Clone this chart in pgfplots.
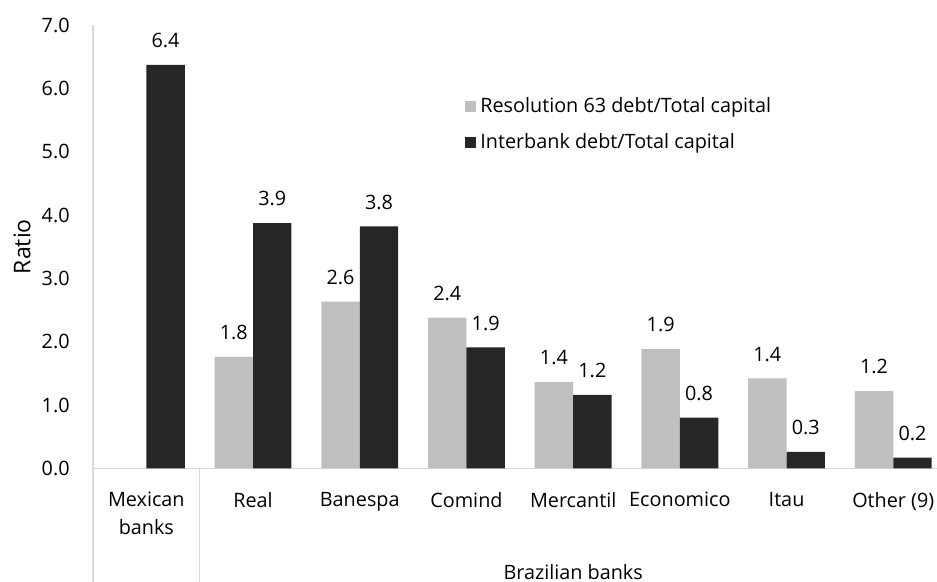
\documentclass[border=0pt]{standalone}
\usepackage{fontspec}
\setmainfont{Open Sans}
\usepackage{pgfplots}
\pgfplotsset{compat=1.18}
\definecolor{barlight}{RGB}{191,191,191}
\definecolor{bardark}{RGB}{38,38,38}
\definecolor{axisgray}{RGB}{217,217,217}
\begin{document}
\fontsize{9.9}{14}\selectfont
\begin{tikzpicture}
\path[use as bounding box] (-46.5pt,-56.85pt) rectangle (422pt,234.15pt);
\begin{axis}[
  at={(0pt,0pt)}, anchor=south west,
  scale only axis, width=422pt, height=221.65pt,
  xmin=-0.5, xmax=7.41, ymin=0, ymax=7,
  axis lines*=left,
  axis line style={axisgray, line width=0.7pt},
  major tick length=0pt,
  ytick={0,1,...,7},
  xtick={0,1,...,7},
  xticklabels={{Mexican\\banks},Real,Banespa,Comind,Mercantil,Economico,Itau,Other (9)},
  xticklabel style={align=center, yshift=-8.5pt},
  yticklabel style={xshift=-8.2pt, /pgf/number format/.cd, fixed, fixed zerofill, precision=1, assume math mode=true},
  ylabel={Ratio},
  every axis y label/.style={at={(axis description cs:-0.0841,0.5)}, rotate=90, anchor=center, font=\fontsize{11.5}{14}\selectfont},
  clip=false,
  ybar, bar width=0.36,
  nodes near coords={\pgfmathprintnumber[fixed,fixed zerofill,precision=1,assume math mode=true]{\pgfplotspointmeta}},
  every node near coord/.append style={inner sep=0pt, outer sep=0pt, anchor=south, yshift=8.5pt, text=black},
  legend style={draw=none, fill=none, at={(rel axis cs:0.4336,0.855)}, anchor=north west, legend cell align=left, row sep=5pt},
]
\addplot[fill=barlight, draw=none, bar shift=-0.18,
  legend image code/.code={\fill[barlight] (0pt,-2.75pt) rectangle (5.5pt,2.75pt);}]
  coordinates {(1,1.76) (2,2.63) (3,2.38) (4,1.36) (5,1.88) (6,1.42) (7,1.22)};
\addlegendentry{Resolution 63 debt/Total capital}
\addplot[fill=bardark, draw=none, bar shift=0.18,
  legend image code/.code={\fill[bardark] (0pt,-2.75pt) rectangle (5.5pt,2.75pt);}]
  coordinates {(0,6.37) (1,3.87) (2,3.82) (3,1.91) (4,1.16) (5,0.80) (6,0.26) (7,0.17)};
\addlegendentry{Interbank debt/Total capital}
\draw[axisgray, line width=0.7pt] (axis cs:-0.5,0) -- ++(0pt,-60pt);
\draw[axisgray, line width=0.7pt] (axis cs:0.5,0) -- ++(0pt,-60pt);
\node[anchor=base, yshift=-55.85pt] at (axis cs:4,0) {Brazilian banks};
\end{axis}
\end{tikzpicture}
\end{document}
